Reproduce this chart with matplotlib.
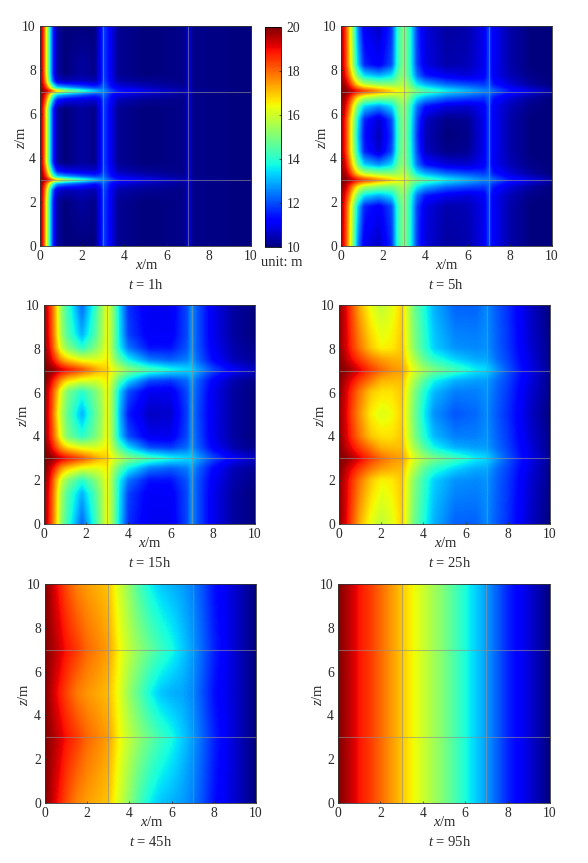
import numpy as np
import matplotlib
matplotlib.use("Agg")
import matplotlib.pyplot as plt
from matplotlib.cm import ScalarMappable
from matplotlib.colors import Normalize

plt.rcParams["font.family"] = ["Liberation Serif", "DejaVu Serif"]
plt.rcParams["mathtext.fontset"] = "custom"
plt.rcParams["mathtext.rm"] = "Liberation Serif"
plt.rcParams["mathtext.it"] = "Liberation Serif:italic"

W, H = 588, 863
INK = "#2a2a2a"

# ---- head field, t = 1 h ----
x_1h = [0, .15, .3, .45, .6, .8, 1.2, 2, 2.6, 2.85, 3, 3.15, 3.4, 3.7, 5, 6.8, 7, 7.2, 10]
a_far = [19.8, 18.8, 16.5, 14, 11.8, 10.3, 10, 10, 10, 11, 11.9, 11.6, 10.9, 10.2, 10, 10.1, 11, 10.1, 10]
a_bulge = [19.8, 18.8, 16.5, 14, 11.8, 10.3, 10, 10.3, 10.1, 11, 11.9, 11.6, 10.9, 10.2, 10, 10.1, 11, 10.1, 10]
a_b1 = [19.8, 18.9, 17, 14.5, 12.3, 10.8, 10.5, 10.6, 10.4, 11.1, 12, 11.7, 11, 10.4, 10.2, 10.1, 11, 10.1, 10]
a_b2 = [20, 19.3, 18, 16.5, 14.5, 13, 12.6, 12, 11.5, 11.7, 12.3, 11.9, 11.3, 10.9, 10.5, 10.2, 11, 10.1, 10]
a_line = [20, 19.8, 19.5, 19, 18.5, 17.5, 16, 14.5, 13.5, 13, 12.8, 12.5, 12, 11.6, 11, 10.5, 11, 10.3, 10]
a_b3 = [20, 19.5, 18.5, 17, 15, 13.5, 13, 12.3, 11.9, 12, 12.4, 12, 11.4, 11, 10.6, 10.2, 11, 10.1, 10]
a_b4 = [19.9, 19.2, 17.7, 15.5, 13.2, 11.5, 11, 10.8, 10.7, 11.2, 12, 11.7, 11.1, 10.5, 10.2, 10.1, 11, 10.1, 10]
z_1h = [0, 2, 2.55, 2.85, 3, 3.15, 3.4, 3.8, 5, 6.2, 6.6, 6.85, 7, 7.15, 7.45, 7.8, 8.3, 10]
head_1h = [a_far, a_bulge, a_b1, a_b2, a_line, a_b3, a_b4, a_bulge, a_bulge,
           a_bulge, a_b4, a_b3, a_line, a_b3, a_b1, a_bulge, a_bulge, a_far]

# ---- head field, t = 5 h ----
x_5h = [0, .2, .4, .6, .8, 1.1, 1.8, 2.4, 2.7, 3, 3.3, 3.6, 4, 5, 6, 6.8, 7, 7.2, 8, 9, 10]
b_edge = [19.6, 18.6, 16.8, 14.8, 12.5, 11, 10.6, 11.7, 14.2, 15.2, 13.8, 11.8, 10.8, 10.3, 10.4, 11, 12, 11.1, 10.4, 10, 10]
b_r1 = [19.7, 18.7, 17, 15.2, 13.3, 11.6, 11.1, 12, 14.2, 15.2, 13.8, 11.9, 10.9, 10.4, 10.5, 11, 12, 11.1, 10.4, 10, 10]
b_r2 = [19.8, 19, 17.8, 16.2, 14.8, 13.5, 13, 13.5, 14.7, 15.3, 14, 12.4, 11.5, 11, 10.8, 11.1, 12, 11.1, 10.5, 10.1, 10]
b_r3 = [20, 19.5, 18.6, 17.5, 16.5, 15.7, 15.2, 15, 15.3, 15.7, 14.6, 13.6, 13, 12.3, 12, 11.8, 12.2, 11.5, 10.8, 10.3, 10]
b_line = [20, 20, 19.7, 19.4, 19, 18.6, 17.7, 17, 16.5, 16.3, 15.5, 15, 14.5, 13.7, 13.1, 12.6, 12.6, 12.3, 11.5, 10.9, 10.4]
b_r4 = [20, 19.6, 18.8, 17.7, 16.7, 15.8, 15.3, 15.2, 15.4, 15.8, 14.7, 13.6, 13, 12.3, 12, 11.8, 12.2, 11.5, 10.8, 10.3, 10]
b_r5 = [19.9, 19.2, 18, 16.4, 14.8, 13.3, 12.7, 13.4, 14.7, 15.3, 14, 12.4, 11.4, 10.8, 10.7, 11.1, 12, 11.1, 10.5, 10.1, 10]
b_r6 = [19.7, 18.8, 17.2, 15.5, 13.6, 11.6, 10.7, 12, 14.3, 15.2, 13.8, 12, 10.6, 10.1, 10.2, 11, 12, 11.1, 10.4, 10, 10]
b_mid = [19.7, 18.8, 17.1, 15.3, 13.3, 11.4, 10.5, 11.8, 14.2, 15.2, 13.7, 11.8, 10.5, 10, 10.1, 11, 12, 11.1, 10.4, 10, 10]
z_5h = [0, 1.8, 2.3, 2.7, 3, 3.3, 3.7, 4.3, 5, 5.7, 6.3, 6.7, 7, 7.3, 7.7, 8.2, 10]
head_5h = [b_edge, b_r1, b_r2, b_r3, b_line, b_r4, b_r5, b_r6, b_mid, b_r6,
           b_r5, b_r4, b_line, b_r4, b_r2, b_r1, b_edge]

# ---- head field, t = 15 h ----
x_15h = x_5h
c_edge = [19.8, 19, 18, 16.8, 15.3, 14.2, 12.2, 14, 15.2, 16.4, 15, 13.3, 11.7, 11, 11, 12, 12.8, 12.2, 11, 10.3, 10]
c_r1 = [19.8, 19.1, 18.1, 16.9, 15.6, 14.5, 13, 14.4, 15.3, 16.4, 15, 13.4, 11.9, 11.1, 11.1, 12, 12.8, 12.2, 11, 10.3, 10]
c_r2 = [19.8, 19.3, 18.3, 17.2, 16.1, 15.2, 14, 15, 15.6, 16.4, 15, 13.6, 12.4, 11.4, 11.4, 12.1, 12.8, 12.2, 11.1, 10.4, 10.1]
c_r3 = [20, 19.6, 19, 18.3, 17.6, 17, 16.3, 16.2, 16.3, 16.6, 15.5, 14.6, 13.7, 12.5, 12.2, 12.5, 13, 12.4, 11.3, 10.5, 10.2]
c_line = [20, 20, 19.9, 19.6, 19.3, 19, 18.3, 17.5, 17.1, 16.9, 16.3, 15.8, 15.2, 14.4, 13.8, 13.4, 13.4, 13, 12, 11.1, 10.6]
c_r4 = [20, 19.6, 18.9, 18.2, 17.5, 16.8, 16.2, 16.1, 16.3, 16.6, 15.5, 14.4, 13.4, 12, 11.8, 12.3, 12.9, 12.3, 11.2, 10.4, 10.1]
c_r5 = [19.9, 19.2, 18.3, 17.3, 16.2, 15, 14, 14.9, 15.5, 16.4, 15, 13.3, 12, 11, 11, 12, 12.8, 12.2, 11, 10.3, 10]
c_mid = [19.8, 19.1, 18.1, 16.9, 15.8, 14.7, 13, 14.6, 15.3, 16.4, 14.9, 13, 11.5, 10.6, 10.7, 11.9, 12.8, 12.1, 11, 10.3, 10]
z_15h = [0, 1.4, 2, 2.55, 3, 3.5, 4, 5, 6, 6.5, 7, 7.45, 8, 8.6, 10]
head_15h = [c_edge, c_r1, c_r2, c_r3, c_line, c_r4, c_r5, c_mid, c_r5, c_r4,
            c_line, c_r3, c_r2, c_r1, c_edge]

# ---- head field, t = 25 h ----
x_25h = [0, .3, .6, 1, 1.5, 2, 2.5, 3, 3.5, 4, 4.5, 5.5, 6.5, 7, 7.5, 8, 9, 10]
d_edge = [19.9, 19.2, 18.3, 17.2, 16.3, 15.8, 16.2, 16.9, 15, 13.9, 13, 12.2, 12.2, 12.6, 12.1, 11.7, 10.7, 10]
d_r1 = [19.9, 19.3, 18.6, 17.8, 17, 16.5, 16.6, 17, 15.3, 14.2, 13.3, 12.7, 12.6, 12.7, 12.2, 11.8, 10.8, 10.1]
d_r2 = [20, 19.5, 19, 18.4, 17.8, 17.4, 17.2, 17.1, 15.8, 14.7, 14, 13.3, 12.9, 12.9, 12.3, 11.9, 10.9, 10.1]
d_line = [20, 19.9, 19.6, 19.1, 18.5, 18, 17.6, 17.4, 16.3, 15.5, 15, 14.3, 13.6, 13.4, 12.7, 12.1, 11, 10.2]
d_r3 = [20, 19.5, 19, 18.4, 17.8, 17.2, 17.1, 17.1, 15.7, 14.6, 13.7, 13, 12.8, 12.8, 12.3, 11.9, 10.9, 10.1]
d_r4 = [19.9, 19.3, 18.6, 17.8, 17, 16.7, 16.7, 17, 15.3, 14, 13.1, 12.5, 12.5, 12.7, 12.2, 11.8, 10.8, 10.1]
d_mid = [19.8, 19.2, 18.4, 17.5, 16.6, 16.2, 16.4, 16.9, 15.1, 13.7, 12.7, 12.1, 12.3, 12.6, 12.1, 11.7, 10.7, 10]
z_25h = [0, 2, 2.5, 3, 3.5, 4, 5, 6, 6.5, 7, 7.5, 8, 10]
head_25h = [d_edge, d_r1, d_r2, d_line, d_r3, d_r4, d_mid, d_r4, d_r3, d_line, d_r2, d_r1, d_edge]

# ---- head field, t = 45 h ----
x_45h = [0, .5, 1, 1.5, 2, 3, 3.5, 4, 4.5, 5, 5.5, 6, 6.5, 7, 7.5, 8, 9, 10]
e_edge = [20, 19.1, 18.3, 17.7, 17.4, 17, 16.1, 15.2, 14.3, 13.6, 13.2, 13, 12.8, 12.5, 12, 11.4, 10.7, 10]
e_line = [20, 19.5, 18.9, 18.5, 18, 17.4, 16.5, 15.8, 15.2, 14.7, 14.2, 13.8, 13.3, 12.8, 12.2, 11.6, 10.7, 10]
e_mid = [20, 19.1, 18.4, 17.8, 17.5, 17.1, 16.3, 15.3, 14.5, 13.7, 13.2, 13, 12.9, 12.6, 12, 11.4, 10.7, 10]
z_45h = [0, 3, 5, 7, 10]
head_45h = [e_edge, e_line, e_mid, e_line, e_edge]

# ---- head field, t = 95 h ----
x_95h = [0, .5, 1, 1.5, 2, 3, 3.7, 5, 6.2, 7, 8, 9, 10]
f_rows = [20, 19.5, 18.9, 18.5, 18, 17, 16.3, 15, 13.6, 12.8, 11.6, 10.8, 10]
z_95h = [0, 10]
head_95h = [f_rows, f_rows]

panels = [
    (x_1h, z_1h, head_1h, "1h", (40, 251, 26, 246), (147, 265), (146, 285), (21, 137)),
    (x_5h, z_5h, head_5h, "5h", (341, 552, 26, 246), (447, 265), (446, 285), (322, 137)),
    (x_15h, z_15h, head_15h, "15h", (44, 255, 305, 524), (150, 543), (150, 563), (23, 415)),
    (x_25h, z_25h, head_25h, "25h", (339, 550, 305, 524), (446, 543), (450, 563), (320, 415)),
    (x_45h, z_45h, head_45h, "45h", (45, 256, 584, 803), (152, 822), (151, 842), (24, 694)),
    (x_95h, z_95h, head_95h, "95h", (338, 550, 584, 803), (445, 822), (450, 842), (318, 694)),
]

ticks = [0, 2, 4, 6, 8, 10]
fractures = [3, 7]
bar_ticks = [10, 12, 14, 16, 18, 20]
norm = Normalize(10, 20)

fig = plt.figure(figsize=(W / 100, H / 100), dpi=100, facecolor="white")


def fx(px):
    return px / W


def fy(py):
    return 1 - py / H


def raster(xs, zs, head, nx, nz):
    """Bilinear raster of a node table, one cell per output pixel, lightly softened."""
    gx = (np.arange(nx) + .5) / nx * 10
    gz = (np.arange(nz) + .5) / nz * 10
    rows = np.array([np.interp(gx, xs, r) for r in head])
    field = np.array([np.interp(gz, zs, rows[:, j]) for j in range(nx)]).T
    pad = np.pad(field, 1, mode="edge")
    stack = [pad[1 + i:nz + 1 + i, 1 + j:nx + 1 + j] for i in (-1, 0, 1) for j in (-1, 0, 1)]
    return np.mean(stack, axis=0)


for xs, zs, head, label, (l, r, t, b), xl, tl, yl in panels:
    ax = fig.add_axes([fx(l), fy(b), (r - l) / W, (b - t) / H])
    ax.imshow(raster(xs, zs, head, r - l, b - t), origin="lower", extent=(0, 10, 0, 10),
              aspect="auto", cmap="jet", norm=norm, interpolation="nearest")
    for f in fractures:
        ax.axvline(f, color="#8f8f8f", lw=0.8, alpha=0.6)
        ax.axhline(f, color="#8f8f8f", lw=0.8, alpha=0.6)
    ax.set_xlim(0, 10)
    ax.set_ylim(0, 10)
    ax.set_xticks(ticks)
    ax.set_yticks(ticks)
    ax.tick_params(direction="in", length=1.5, width=0.5, labelsize=9.8,
                   colors=INK, pad=3)
    for s in ax.spines.values():
        s.set_linewidth(0.6)
        s.set_color("#333333")
    fig.text(fx(xl[0]), fy(xl[1]), "$x$/m", ha="center", va="center", fontsize=10.5, color=INK)
    fig.text(fx(yl[0]), fy(yl[1]), "$z$/m", ha="center", va="center", rotation=90,
             fontsize=10.5, color=INK)
    fig.text(fx(tl[0]), fy(tl[1]), f"$t$ = {label}", ha="center", va="center",
             fontsize=10.5, color=INK)

cax = fig.add_axes([fx(265), fy(247), 16 / W, 220 / H])
cb = fig.colorbar(ScalarMappable(norm=norm, cmap="jet"), cax=cax, ticks=bar_ticks)
cb.ax.tick_params(direction="in", length=1.5, width=0.5, labelsize=9.8, colors=INK, pad=4)
cb.outline.set_linewidth(0.6)
fig.text(fx(282), fy(262), "unit: m", ha="center", va="center", fontsize=10.5, color=INK)

fig.savefig("out.png", dpi=100)
